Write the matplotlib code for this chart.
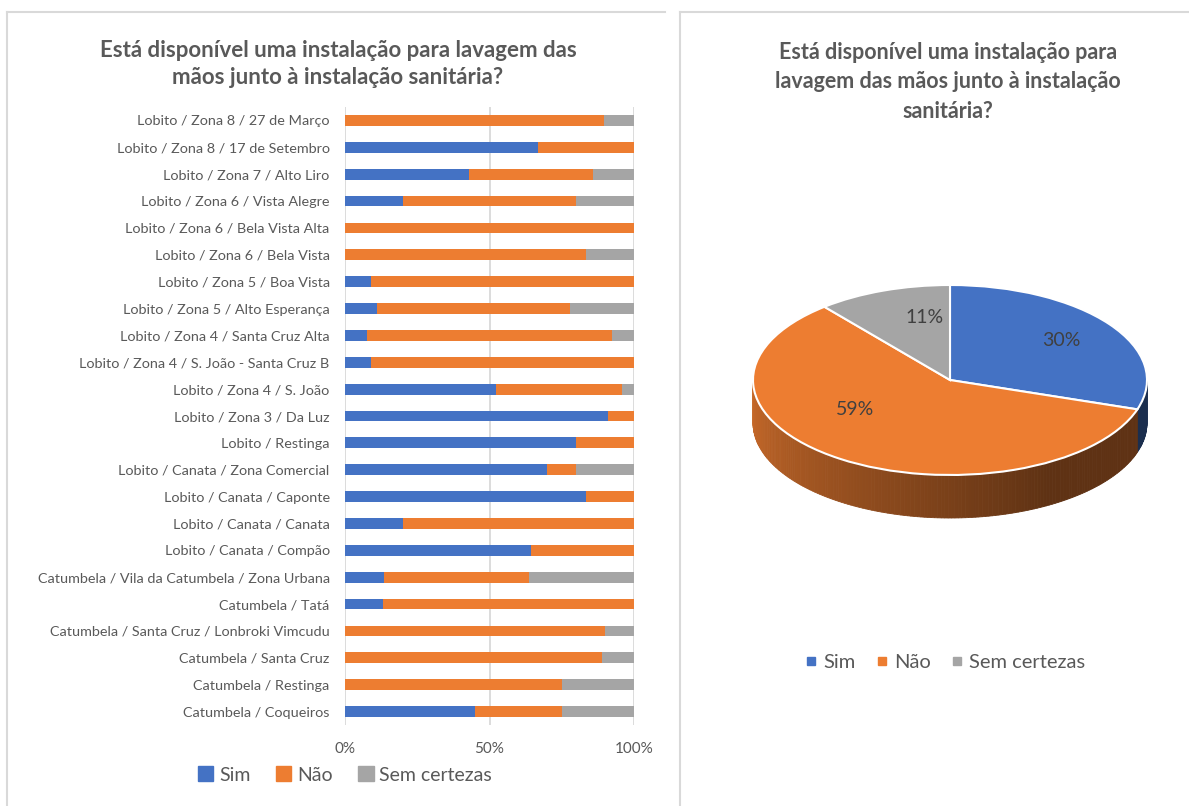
import numpy as np
import matplotlib
matplotlib.use('Agg')
import matplotlib.pyplot as plt
from matplotlib.patches import Patch
from matplotlib.lines import Line2D
from matplotlib.transforms import Affine2D

plt.rcParams['font.family'] = ['Lato', 'DejaVu Sans']

# ---------------- data ----------------
categories = [
    'Lobito / Zona 8 / 27 de Março',
    'Lobito / Zona 8 / 17 de Setembro',
    'Lobito / Zona 7 / Alto Liro',
    'Lobito / Zona 6 / Vista Alegre',
    'Lobito / Zona 6 / Bela Vista Alta',
    'Lobito / Zona 6 / Bela Vista',
    'Lobito / Zona 5 / Boa Vista',
    'Lobito / Zona 5 / Alto Esperança',
    'Lobito / Zona 4 / Santa Cruz Alta',
    'Lobito / Zona 4 / S. João - Santa Cruz B',
    'Lobito / Zona 4 / S. João',
    'Lobito / Zona 3 / Da Luz',
    'Lobito / Restinga',
    'Lobito / Canata / Zona Comercial',
    'Lobito / Canata / Caponte',
    'Lobito / Canata / Canata',
    'Lobito / Canata / Compão',
    'Catumbela / Vila da Catumbela / Zona Urbana',
    'Catumbela / Tatá',
    'Catumbela / Santa Cruz / Lonbroki Vimcudu',
    'Catumbela / Santa Cruz',
    'Catumbela / Restinga',
    'Catumbela / Coqueiros',
]
sim = [0, 66.7, 42.9, 20, 0, 0, 9.1, 11.1, 7.7, 9.1, 52.2, 90.9,
       80, 70, 83.3, 20, 64.3, 13.6, 13.3, 0, 0, 0, 45]
nao = [89.7, 33.3, 42.9, 60, 100, 83.3, 90.9, 66.7, 84.6, 90.9, 43.5, 9.1,
       20, 10, 16.7, 80, 35.7, 50, 86.7, 90, 88.9, 75, 30]
sem = [10.3, 0, 14.3, 20, 0, 16.7, 0, 22.2, 7.7, 0, 4.3, 0,
       0, 20, 0, 0, 0, 36.4, 0, 10, 11.1, 25, 25]

series_names = ['Sim', 'Não', 'Sem certezas']
pie_values = [30, 59, 11]

x_ticks = [0, 50, 100]
x_tick_labels = ['0%', '50%', '100%']

title_left = 'Está disponível uma instalação para lavagem das\nmãos junto à instalação sanitária?'
title_right = 'Está disponível uma instalação para\nlavagem das mãos junto à instalação\nsanitária?'

colors = ['#4472C4', '#ED7D31', '#A5A5A5']
txt_col = '#595959'
border_col = '#D9D9D9'

W, H = 1189, 806
fig = plt.figure(figsize=(W / 100, H / 100), dpi=100)

# panel borders
for (x0, x1, y0, y1) in [(7, 665, 12, 12), (7, 7, 12, H), (680, W, 12, 12), (680, 680, 12, H)]:
    fig.add_artist(Line2D([x0 / W, x1 / W], [1 - y0 / H, 1 - y1 / H],
                          color=border_col, lw=1.5, transform=fig.transFigure))

# ---------------- stacked bar chart ----------------
ax = fig.add_axes([345 / W, 1 - 725 / H, 289 / W, 618 / H])
y = np.arange(len(categories))
sim_a = np.array(sim)
nao_a = np.array(nao)
sem_a = np.array(sem)
ax.barh(y, sim_a, height=0.4, color=colors[0], label=series_names[0])
ax.barh(y, nao_a, left=sim_a, height=0.4, color=colors[1], label=series_names[1])
ax.barh(y, sem_a, left=sim_a + nao_a, height=0.4, color=colors[2], label=series_names[2])
ax.set_xlim(0, 100)
ax.set_ylim(len(categories) - 0.5, -0.5)
ax.set_yticks(y)
ax.set_yticklabels(categories)
ax.set_xticks(x_ticks)
ax.set_xticklabels(x_tick_labels)
ax.tick_params(axis='y', length=0, pad=11, labelsize=10.4, labelcolor=txt_col)
ax.tick_params(axis='x', length=0, pad=12, labelsize=11, labelcolor=txt_col)
ax.grid(axis='x', color=border_col, lw=1.3)
ax.set_axisbelow(True)
for s in ax.spines.values():
    s.set_visible(False)

fig.text(338 / W, 1 - 64 / H, title_left, ha='center', va='center',
         fontsize=16, fontweight='bold', color=txt_col, linespacing=1.35)

handles = [Patch(color=c) for c in colors]
fig.legend(handles, series_names, loc='center', bbox_to_anchor=(345 / W, 1 - 775 / H),
           ncol=3, frameon=False, fontsize=14, labelcolor=txt_col,
           handlelength=0.8, handleheight=0.8, handletextpad=0.3, columnspacing=1.3)

# ---------------- pseudo 3D pie ----------------
pax = fig.add_axes([680 / W, 0, (W - 680) / W, 1])
cx, cy = 950, H - 380
rx, ry, depth = 197, 95, 43
wedges, _, autotexts = pax.pie(pie_values, colors=colors, radius=rx, center=(cx, cy),
                               startangle=90, counterclock=False, autopct='%1.0f%%',
                               pctdistance=0.7,
                               wedgeprops=dict(edgecolor='white', linewidth=1.5),
                               textprops=dict(fontsize=14, color='#404040'))
squash = Affine2D().translate(-cx, -cy).scale(1, ry / rx).translate(cx, cy) + pax.transData
for w in wedges:
    w.set_transform(squash)
    w.set_zorder(3)
for t in autotexts:
    t.set_transform(squash)
    t.set_zorder(4)
# Excel nudges the labels of the larger slices a bit
autotexts[1].set_position((cx - 95, cy - 62))
autotexts[2].set_position((cx - 25, cy + 129))

# side of the pie (front half only), shaded darker to the right
for w, c in zip(wedges, colors):
    base = np.array(matplotlib.colors.to_rgb(c))
    for k in (-360, 0, 360):
        lo = max(w.theta1 + k, 180)
        hi = min(w.theta2 + k, 360)
        if hi <= lo:
            continue
        edges = np.linspace(lo, hi, int(hi - lo) + 2)
        for a0, a1 in zip(edges[:-1], edges[1:]):
            t = np.radians([a0, a1])
            xs = cx + rx * np.cos(t)
            ys = cy + ry * np.sin(t)
            am = (a0 + a1) / 2
            f = 0.85 - 0.45 * np.clip((am - 180) / 120, 0, 1)
            pax.fill([xs[0], xs[1], xs[1], xs[0]],
                     [ys[0], ys[1], ys[1] - depth, ys[0] - depth],
                     color=base * f, lw=0.6, ec=base * f, zorder=2)

pax.set_xlim(680, W)
pax.set_ylim(0, H)
pax.set_aspect('auto')
pax.axis('off')

fig.text(948 / W, 1 - 82 / H, title_right, ha='center', va='center',
         fontsize=15.5, fontweight='bold', color=txt_col, linespacing=1.5)

pie_handles = [Line2D([], [], marker='s', ls='', color=c, markersize=6) for c in colors]
fig.legend(pie_handles, series_names, loc='center', bbox_to_anchor=(945 / W, 1 - 662 / H),
           ncol=3, frameon=False, fontsize=14.5, labelcolor=txt_col,
           handlelength=0.6, handletextpad=0.3, columnspacing=1.0)

fig.savefig('out.png', dpi=100)
